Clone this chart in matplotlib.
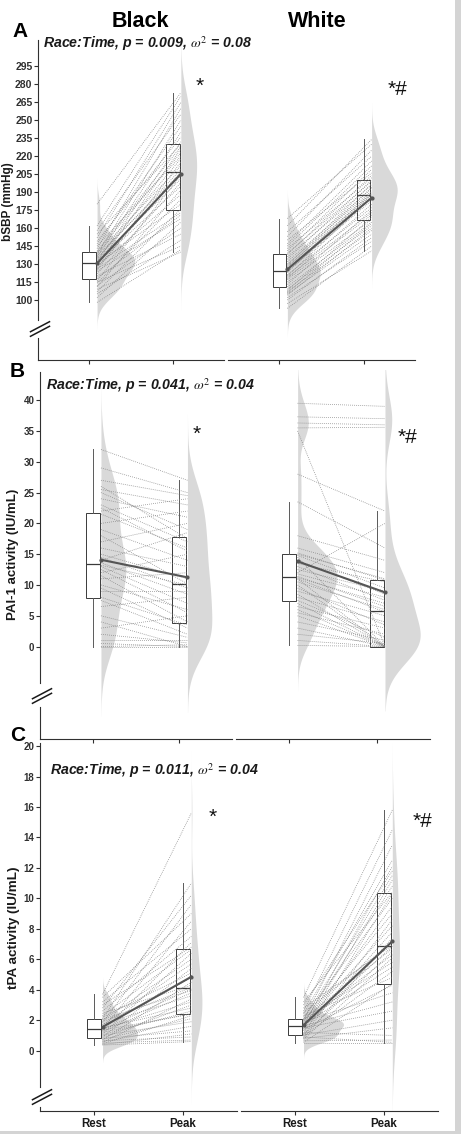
import numpy as np
import matplotlib
matplotlib.use("Agg")
import matplotlib.pyplot as plt
from matplotlib.lines import Line2D
from matplotlib.patches import Rectangle

plt.rcParams["font.family"] = ["Liberation Sans", "DejaVu Sans"]
plt.rcParams["mathtext.fontset"] = "stix"

W, H = 461, 1134

TIMES = ["Rest", "Peak"]
RACES = ["Black", "White"]

# --- A: brachial SBP (mmHg), one value per subject, rest and peak in the same order
SBP_BLACK_REST = [98, 102, 105, 107, 109, 111, 112, 114, 115, 116, 118, 120, 122, 124, 125, 126, 127, 128, 129, 130,
                  131, 132, 133, 134, 135, 136, 137, 138, 139, 140, 141, 143, 145, 147, 149, 152, 155, 158, 162, 180]
SBP_BLACK_PEAK = [142, 165, 150, 176, 140, 192, 160, 184, 145, 204, 171, 155, 198, 168, 215, 173, 207, 188, 226, 180,
                  195, 232, 201, 218, 209, 240, 206, 250, 212, 223, 228, 260, 220, 245, 236, 265, 230, 255, 270, 273]
SBP_WHITE_REST = [93, 97, 100, 102, 104, 105, 106, 107, 108, 109, 111, 113, 115, 117, 118, 119, 120, 121, 123, 124,
                  125, 126, 127, 128, 129, 130, 132, 134, 136, 138, 139, 141, 143, 145, 147, 150, 153, 157, 162, 168]
SBP_WHITE_PEAK = [145, 141, 152, 149, 160, 155, 164, 158, 169, 162, 165, 175, 167, 171, 180, 173, 186, 177, 188, 183,
                  190, 188, 194, 189, 197, 191, 193, 200, 196, 204, 199, 209, 202, 212, 216, 206, 225, 220, 234, 230]

# --- B: PAI-1 activity (IU/mL)
PAI_BLACK_REST = [0, 0, 0.5, 1, 2, 3, 4, 5, 6.5, 7.5, 8, 9, 9.5, 10, 11, 11.5, 12, 12.5, 13, 13.2,
                  13.6, 14, 14.5, 15, 16, 17, 18, 19, 20, 21.5, 22, 22.5, 23, 24, 25, 25.5, 26, 27, 29, 32]
PAI_BLACK_PEAK = [0, 0.3, 0, 1, 0.6, 5, 0, 1.5, 8, 2, 3.5, 9, 3, 6, 12, 4, 15, 5.5, 7, 10,
                  8.5, 18.5, 9.5, 11, 13, 20, 10.2, 14, 22, 16, 24, 15.5, 17, 21, 19, 23, 17.5, 24.5, 25, 27]
PAI_WHITE_REST = [0.2, 1, 2, 3, 4, 5, 5.5, 6, 6.5, 7, 7.5, 8, 8.5, 9, 9.5, 10, 10.5, 11, 11, 11.2,
                  11.4, 11.8, 12, 12.5, 13, 13.5, 14, 14.5, 14.8, 15, 15.2, 16, 18, 23.5, 28, 35, 35.5, 36.3, 37.3, 39.5]
PAI_WHITE_PEAK = [0, 0, 0.5, 0, 1, 0, 2, 0, 3, 0, 1.5, 4, 0, 5, 3.5, 0, 6, 5.6, 0, 7,
                  6.5, 8, 20, 9, 7.5, 10.5, 8.5, 0, 9.5, 11, 10.8, 12, 14, 16, 22, 0, 35.6, 36, 37, 39]

# --- C: tPA activity (IU/mL)
TPA_BLACK_REST = [0.37, 0.4, 0.45, 0.5, 0.55, 0.6, 0.65, 0.7, 0.75, 0.8, 0.85, 0.9, 1.0, 1.05, 1.1, 1.2, 1.25, 1.3,
                  1.35, 1.38, 1.42, 1.45, 1.5, 1.6, 1.7, 1.75, 1.85, 1.9, 2.0, 2.05, 2.1, 2.2, 2.3, 2.45, 2.6, 2.8,
                  3.0, 3.2, 3.5, 3.7]
TPA_BLACK_PEAK = [0.6, 1.1, 2.3, 0.7, 3.4, 1.6, 0.9, 4.5, 2.1, 1.3, 3.0, 5.4, 1.9, 2.6, 6.4, 2.45, 3.8, 7.1, 2.4,
                  4.05, 3.2, 8.5, 2.8, 4.8, 5.7, 3.6, 9.6, 4.15, 6.0, 3.95, 11.0, 5.1, 6.65, 4.3, 7.5, 10.2, 6.8,
                  8.0, 9.0, 15.6]
TPA_WHITE_REST = [0.48, 0.55, 0.65, 0.75, 0.8, 0.85, 0.9, 0.95, 1.0, 1.02, 1.05, 1.1, 1.2, 1.3, 1.4, 1.45, 1.5, 1.55,
                  1.6, 1.63, 1.65, 1.7, 1.75, 1.8, 1.85, 1.9, 1.95, 2.0, 2.03, 2.05, 2.1, 2.2, 2.3, 2.4, 2.5, 2.6,
                  2.8, 3.0, 3.2, 3.5]
TPA_WHITE_PEAK = [0.48, 4.4, 0.7, 6.1, 1.5, 7.4, 0.55, 5.2, 8.6, 2.0, 6.5, 10.3, 1.0, 7.8, 4.3, 11.2, 2.6, 6.85, 9.5,
                  3.2, 12.1, 5.5, 8.2, 6.3, 10.8, 3.8, 9.0, 13.5, 5.8, 11.5, 6.7, 10.0, 4.8, 12.5, 7.1, 14.5, 6.93,
                  11.8, 10.4, 15.8]

PANEL_LABELS = ["A", "B", "C"]
Y_LABELS = ["bSBP (mmHg)", "PAI-1 activity (IU/mL)", "tPA activity (IU/mL)"]
STATS = [r"Race:Time, p = 0.009, $\omega^2$ = 0.08",
         r"Race:Time, p = 0.041, $\omega^2$ = 0.04",
         r"Race:Time, p = 0.011, $\omega^2$ = 0.04"]
Y_TICKS = [list(range(100, 296, 15)), list(range(0, 41, 5)), list(range(0, 21, 2))]
SIG_MARKS = ["*", "*#"]

DATA = [
    [(SBP_BLACK_REST, SBP_BLACK_PEAK), (SBP_WHITE_REST, SBP_WHITE_PEAK)],
    [(PAI_BLACK_REST, PAI_BLACK_PEAK), (PAI_WHITE_REST, PAI_WHITE_PEAK)],
    [(TPA_BLACK_REST, TPA_BLACK_PEAK), (TPA_WHITE_REST, TPA_WHITE_PEAK)],
]

# layout in pixels (x from left, y from top)
LAYOUT = [
    dict(cols=[(38, 224), (228, 415)], top=40, bottom=360, ylim=(49.9, 317), upper=(83.3, 317), lower_top=68.3,
         brk=329, tick_fs=7.5, ylab_fs=8.5, ylab_xy=(8, 202), letter_xy=(12, 37), stat_xy=(43, 48),
         sig=[(196, 92), (388, 95)]),
    dict(cols=[(40, 232), (236, 430)], top=370, bottom=739, ylim=(-15.0, 44.9), upper=(-5.9, 44.5), lower_top=-9.8,
         brk=696, tick_fs=7, ylab_fs=9.5, ylab_xy=(13, 554), letter_xy=(10, 377), stat_xy=(46, 390),
         sig=[(193, 440), (398, 443)]),
    dict(cols=[(40, 237), (241, 438)], top=743, bottom=1111, ylim=(-3.96, 20.2), upper=(-2.38, 20.2), lower_top=-3.7,
         brk=1097, tick_fs=7, ylab_fs=9.7, ylab_xy=(14, 928), letter_xy=(10, 741), stat_xy=(50, 775),
         sig=[(209, 823), (413, 827)]),
]

DARK = "#303030"
LINE_GREY = "#7f7f7f"
VIOLIN = "#d9d9d9"
OFFSET = 0.095
BOX_W = 0.16
MAX_W = 0.45


def fx(px):
    return px / W


def fy(py):
    return 1 - py / H


def kde(vals):
    v = np.asarray(vals, dtype=float)
    n = len(v)
    sd = v.std(ddof=1)
    q75, q25 = np.percentile(v, [75, 25])
    bw = 0.9 * min(sd, (q75 - q25) / 1.34) * n ** -0.2
    grid = np.linspace(v.min() - 3 * bw, v.max() + 3 * bw, 512)
    dens = np.exp(-0.5 * ((grid[:, None] - v[None, :]) / bw) ** 2).sum(axis=1) / (n * bw * np.sqrt(2 * np.pi))
    return grid, dens


def draw_group(ax, rest, peak, scale):
    for pos, vals in zip([1, 2], [rest, peak]):
        grid, dens = kde(vals)
        base = pos + OFFSET
        ax.fill_betweenx(grid, base, base + dens * scale, color=VIOLIN, lw=0, zorder=1)

    ax.boxplot([rest, peak], positions=[1, 2], widths=BOX_W, showfliers=False, showcaps=False,
               patch_artist=True, manage_ticks=False,
               boxprops=dict(facecolor="white", edgecolor="#3a3a3a", linewidth=0.7),
               medianprops=dict(color="#3a3a3a", linewidth=0.9),
               whiskerprops=dict(color="#5a5a5a", linewidth=0.7), zorder=2)

    for r, p in zip(rest, peak):
        ax.plot([1 + OFFSET, 2 + OFFSET], [r, p], color=LINE_GREY, lw=0.55, ls=":", zorder=3)

    ax.plot([1 + OFFSET, 2 + OFFSET], [np.mean(rest), np.mean(peak)], color="#555555", lw=1.5,
            marker="o", ms=2, zorder=4)


def draw_panel(fig, i):
    lay = LAYOUT[i]
    groups = DATA[i]
    peak_dens = max(kde(v)[1].max() for g in groups for v in g)
    scale = MAX_W / peak_dens

    for j, (left, right) in enumerate(lay["cols"]):
        ax = fig.add_axes([fx(left), fy(lay["bottom"]), (right - left) / W, (lay["bottom"] - lay["top"]) / H])
        ax.patch.set_alpha(0)
        rest, peak = groups[j]
        draw_group(ax, rest, peak, scale)
        ax.set_xlim(0.39, 2.61)
        ax.set_ylim(*lay["ylim"])
        ax.set_xticks([1, 2])
        for s in ["top", "right"]:
            ax.spines[s].set_visible(False)
        ax.spines["bottom"].set_color(DARK)
        ax.spines["bottom"].set_linewidth(0.8)
        ax.tick_params(axis="x", length=3, width=0.8, color=DARK, pad=2)
        if i == 2:
            ax.set_xticklabels(TIMES, fontsize=8.3, fontweight="bold", color="#1a1a1a")
        else:
            ax.set_xticklabels([])

        if j == 0:
            ax.spines["left"].set_bounds(*lay["upper"])
            ax.spines["left"].set_color(DARK)
            ax.spines["left"].set_linewidth(0.8)
            ax.plot([0, 0], [lay["lower_top"], lay["ylim"][0]], transform=ax.get_yaxis_transform(),
                    color=DARK, lw=0.8, clip_on=False)
            ax.set_yticks(Y_TICKS[i])
            ax.tick_params(axis="y", length=3, width=0.8, color=DARK, pad=1,
                           labelsize=lay["tick_fs"], labelcolor=DARK)
            for t in ax.get_yticklabels():
                t.set_fontweight("bold")
        else:
            ax.spines["left"].set_visible(False)
            ax.set_yticks([])

        sx, sy = lay["sig"][j]
        fig.text(fx(sx), fy(sy), SIG_MARKS[j], fontsize=15, color="#111111", ha="left", va="baseline")

    # axis break marks
    xb = lay["cols"][0][0] + 2
    yb = lay["brk"]
    for off in (-2.3, 2.3):
        fig.add_artist(Line2D([fx(xb - 9.5), fx(xb + 9.5)], [fy(yb + off + 5), fy(yb + off - 5)],
                              transform=fig.transFigure, color="#1a1a1a", lw=1.1))

    lx, ly = lay["ylab_xy"]
    fig.text(fx(lx), fy(ly), Y_LABELS[i], rotation=90, ha="center", va="center",
             fontsize=lay["ylab_fs"], fontweight="bold", color="#1a1a1a")
    px, py = lay["letter_xy"]
    fig.text(fx(px), fy(py), PANEL_LABELS[i], fontsize=15, fontweight="bold", ha="left", va="baseline")
    tx, ty = lay["stat_xy"]
    fig.text(fx(tx), fy(ty), STATS[i], fontsize=10.2, fontweight="bold", fontstyle="italic",
             ha="left", va="baseline", color="#1a1a1a")


def main():
    fig = plt.figure(figsize=(W / 100, H / 100), dpi=100)
    for i in range(3):
        draw_panel(fig, i)

    fig.text(fx(140), fy(27), RACES[0], fontsize=15.5, fontweight="bold", ha="center", va="baseline")
    fig.text(fx(317), fy(27), RACES[1], fontsize=15.5, fontweight="bold", ha="center", va="baseline")

    # grey screenshot border on the right and bottom
    fig.add_artist(Rectangle((fx(455), 0), 1 - fx(455), 1, transform=fig.transFigure, color="#d4d4d4", lw=0))
    fig.add_artist(Rectangle((0, 0), 1, fy(1131), transform=fig.transFigure, color="#d4d4d4", lw=0))

    fig.savefig("out.png", dpi=100)
    plt.close(fig)


if __name__ == "__main__":
    main()
